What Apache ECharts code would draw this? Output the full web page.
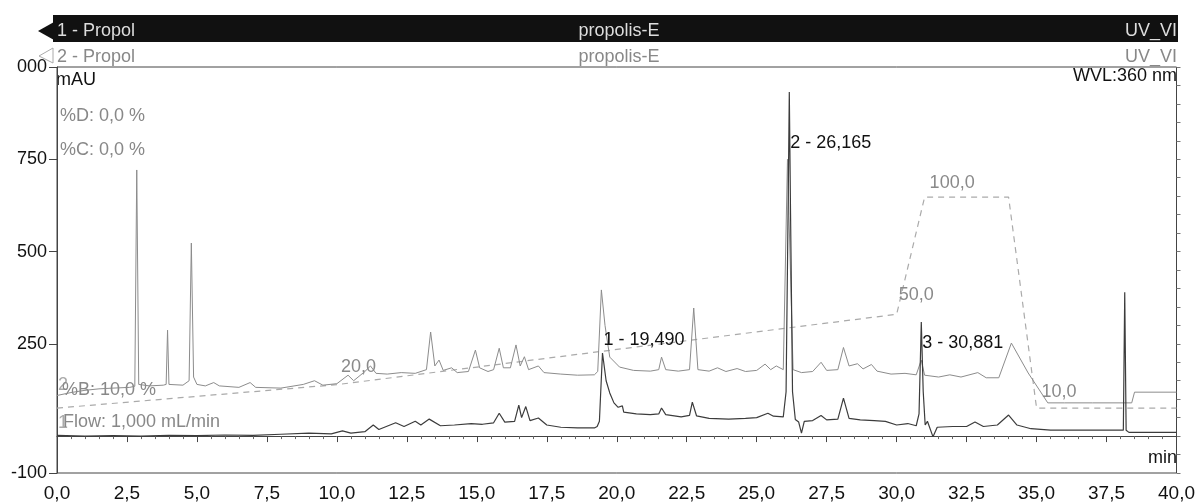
<!DOCTYPE html>
<html><head><meta charset="utf-8">
<script src="https://cdn.jsdelivr.net/npm/echarts@6/dist/echarts.min.js"></script>
<style>html,body{margin:0;padding:0;background:#fff}#c{width:1198px;height:504px}</style>
</head><body><div id="c"></div>
<script>
// ---------- data ----------
const yLabelValues = [-100, 250, 500, 750, 1000];
const xInterval = 2.5;

// trace 1 (active chromatogram, dark): [time min, mAU]
const trace1 = [
  [0,2],[1,0],[2,1],[3,0],[4,2],[5,1],[6,3],[7,2],[8,5],[9,8],[9.8,6],[10.2,14],[10.5,8],[11,12],
  [11.3,30],[11.5,18],[12.1,36],[12.4,26],[12.8,40],[13.0,30],[13.3,46],[13.7,28],[14.2,30],[14.8,34],
  [15.2,32],[15.6,36],[15.8,62],[16.0,38],[16.35,40],[16.5,84],[16.6,50],[16.75,80],[16.9,42],
  [17.2,49],[17.5,30],[18,24],[18.6,22],[19.2,22],[19.3,26],[19.38,40],[19.49,225],[19.62,150],
  [19.75,117],[19.9,90],[20.05,78],[20.2,82],[20.25,65],[20.7,60],[21.2,58],[21.5,60],[21.6,76],
  [21.75,58],[22.3,52],[22.6,56],[22.7,92],[22.85,55],[23.3,48],[24,46],[24.6,48],[25,50],[25.4,62],
  [25.6,54],[25.95,52],[26.05,120],[26.12,600],[26.165,932],[26.21,600],[26.28,120],[26.38,45],
  [26.5,38],[26.6,8],[26.7,40],[27.0,42],[27.3,56],[27.5,44],[27.9,46],[28.1,103],[28.3,48],
  [28.7,44],[29.2,42],[29.6,40],[30.0,30],[30.4,34],[30.7,28],[30.8,60],[30.881,309],[30.95,120],
  [31.02,30],[31.1,40],[31.3,-2],[31.45,24],[32,26],[32.5,26],[32.8,38],[33.1,26],[33.6,30],
  [34.0,57],[34.3,30],[34.8,20],[35.5,16],[36.5,16],[37.5,16],[38.1,16],[38.15,390],[38.2,16],
  [38.3,10],[39,10],[40,10]
];

// trace 2 (overlay chromatogram, light): [time min, mAU]
const trace2 = [
  [0,110],[0.5,118],[1,124],[1.5,128],[2,130],[2.6,132],[2.78,135],[2.85,721],[2.92,140],[3.3,136],
  [3.8,138],[3.9,140],[3.95,287],[4.0,140],[4.5,138],[4.72,150],[4.8,523],[4.88,160],[5.0,140],
  [5.3,136],[5.6,145],[5.8,136],[6.5,132],[6.9,145],[7.1,132],[8,130],[8.8,140],[9.2,150],[9.5,138],
  [10,142],[10.4,165],[10.6,150],[11,175],[11.2,190],[11.4,170],[11.8,168],[12.3,172],[12.8,170],
  [13.2,180],[13.35,282],[13.5,190],[13.65,206],[13.8,178],[14.1,185],[14.3,172],[14.7,175],
  [14.95,233],[15.1,185],[15.4,175],[15.6,180],[15.8,238],[15.95,185],[16.2,185],[16.4,247],
  [16.55,190],[16.7,215],[16.85,180],[17.2,190],[17.4,172],[18,168],[18.6,165],[19.2,166],
  [19.32,175],[19.45,396],[19.58,300],[19.75,214],[20.1,187],[20.6,178],[21.2,176],[21.5,180],
  [21.6,214],[21.75,180],[22.2,176],[22.6,180],[22.75,347],[22.9,180],[23.3,176],[23.6,185],
  [23.9,175],[24.3,183],[24.6,175],[25.0,178],[25.3,195],[25.5,180],[25.7,190],[25.95,180],
  [26.1,750],[26.3,180],[26.6,172],[27.0,175],[27.3,200],[27.5,178],[27.9,180],[28.1,240],
  [28.3,190],[28.6,196],[28.8,182],[29.1,194],[29.3,176],[29.8,168],[30.3,170],[30.7,166],
  [30.88,206],[31.0,165],[31.5,160],[31.9,166],[32.3,160],[32.9,172],[33.2,158],[33.65,158],
  [34.1,252],[34.7,171],[35.1,125],[35.4,90],[36,90],[37,90],[38.4,90],[38.5,119],[40,119]
];

// gradient %B (dashed): [time min, %B]
const gradientB = [[0,10],[10,20],[30,50],[31,100],[34,100],[35,10],[40,10]];

// integrated peaks of trace 1
const peakNumbers = [1, 2, 3];
const peakTimes = [19.490, 26.165, 30.881];

// ---------- layout / style ----------
const FONT = '"Liberation Sans", Arial, sans-serif';
const peakLabelY = [260, 794, 252];           // label anchor height (mAU scale)
const gradLabelIdx = [1, 2, 3, 5];
const gradLabelOffsets = [[4,-3],[2,-5],[5,0],[5,-2]];
const fmt = v => v.toFixed(1).replace('.', ',');

const gradData = gradientB.map((p, i) => {
  const k = gradLabelIdx.indexOf(i);
  if (k < 0) return { value: p };
  return { value: p, label: { show: true, position: 'top', distance: 5, align: 'left',
    offset: gradLabelOffsets[k], formatter: o => fmt(o.value[1]),
    color: '#8a8a8a', fontSize: 18, fontFamily: FONT } };
});

const chart = echarts.init(document.getElementById('c'), null, { renderer: 'canvas' });
chart.setOption({
  animation: false,
  backgroundColor: '#fff',
  grid: { left: 57, right: 19, top: 67, bottom: 31, show: true, borderColor: '#444', borderWidth: 1, backgroundColor: 'transparent' },
  xAxis: {
    type: 'value', min: 0, max: 40, interval: xInterval,
    axisLine: { show: true, lineStyle: { color: '#444', width: 1 } },
    axisTick: { show: true, length: 6, lineStyle: { color: '#444' } },
    minorTick: { show: true, splitNumber: 5, length: 3, lineStyle: { color: '#666' } },
    splitLine: { show: false },
    axisLabel: { formatter: v => fmt(v), color: '#111', fontSize: 19, fontFamily: FONT, margin: 11, showMaxLabel: true, showMinLabel: true, hideOverlap: false }
  },
  yAxis: [
    {
      type: 'value', min: -100, max: 1000,
      axisLine: { show: true, lineStyle: { color: '#444', width: 1 } },
      axisTick: { show: true, length: 8, customValues: yLabelValues, lineStyle: { color: '#444' } },
      axisLabel: { customValues: yLabelValues, formatter: v => (v === 1000 ? '000' : String(v)),
        color: '#111', fontSize: 18, fontFamily: FONT, margin: 10 },
      splitLine: { show: false }
    },
    {
      type: 'value', min: -100, max: 1000, interval: 50,
      axisLine: { show: false }, axisLabel: { show: false }, splitLine: { show: false },
      axisTick: { show: true, length: 4, lineStyle: { color: '#777' } }
    },
    {
      type: 'value', min: -17.7, max: 155.5, show: false
    }
  ],
  series: [
    { name: 'gradient', type: 'line', yAxisIndex: 2, data: gradData, symbol: 'circle', symbolSize: 1, showSymbol: true,
      itemStyle: { color: 'rgba(0,0,0,0)' }, label: { show: false },
      lineStyle: { color: '#aaa', width: 1.2, type: [6, 5] }, z: 1, silent: true },
    { name: '2 - Propol', type: 'line', data: trace2, symbol: 'none', showSymbol: false,
      lineStyle: { color: '#8c8c8c', width: 1 }, z: 2, silent: true },
    { name: '1 - Propol', type: 'line', data: trace1, symbol: 'none', showSymbol: false,
      lineStyle: { color: '#3c3c3c', width: 1.2 }, z: 3, silent: true,
      markPoint: {
        symbol: 'circle', symbolSize: 0, silent: true,
        label: { show: true, position: 'right', distance: 1, color: '#111', fontSize: 18, fontFamily: FONT,
          formatter: p => p.name },
        data: peakTimes.map((t, i) => ({ name: peakNumbers[i] + ' - ' + t.toFixed(3).replace('.', ','), coord: [t, peakLabelY[i]] }))
      } }
  ],
  graphic: [
    { type: 'rect', shape: { x: 53, y: 15, width: 1125, height: 27 }, style: { fill: '#111' }, silent: true },
    { type: 'polygon', shape: { points: [[38,31],[54,22],[54,40]] }, style: { fill: '#111' }, silent: true },
    { type: 'polygon', shape: { points: [[39,56],[53,48],[53,63]] }, style: { fill: 'none', stroke: '#aaa', lineWidth: 1 }, silent: true },
    { type: 'text', style: { text: '1 - Propol', x: 57, y: 31, fill: '#ddd', font: '18px ' + FONT, textVerticalAlign: 'middle' } },
    { type: 'text', style: { text: 'propolis-E', x: 619, y: 31, fill: '#ddd', font: '18px ' + FONT, textAlign: 'center', textVerticalAlign: 'middle' } },
    { type: 'text', style: { text: 'UV_VI', x: 1177, y: 31, fill: '#ddd', font: '18px ' + FONT, textAlign: 'right', textVerticalAlign: 'middle' } },
    { type: 'text', style: { text: '2 - Propol', x: 57, y: 57, fill: '#888', font: '18px ' + FONT, textVerticalAlign: 'middle' } },
    { type: 'text', style: { text: 'propolis-E', x: 619, y: 57, fill: '#888', font: '18px ' + FONT, textAlign: 'center', textVerticalAlign: 'middle' } },
    { type: 'text', style: { text: 'UV_VI', x: 1177, y: 57, fill: '#888', font: '18px ' + FONT, textAlign: 'right', textVerticalAlign: 'middle' } },
    { type: 'text', style: { text: 'mAU', x: 56, y: 80, fill: '#111', font: '18px ' + FONT, textVerticalAlign: 'middle' } },
    { type: 'text', style: { text: 'WVL:360 nm', x: 1177, y: 76, fill: '#111', font: '18px ' + FONT, textAlign: 'right', textVerticalAlign: 'middle' } },
    { type: 'text', style: { text: 'min', x: 1177, y: 458, fill: '#111', font: '18px ' + FONT, textAlign: 'right', textVerticalAlign: 'middle' } },
    { type: 'text', style: { text: '%D: 0,0 %', x: 60, y: 116, fill: '#888', font: '18px ' + FONT, textVerticalAlign: 'middle' } },
    { type: 'text', style: { text: '%C: 0,0 %', x: 60, y: 150, fill: '#888', font: '18px ' + FONT, textVerticalAlign: 'middle' } },
    { type: 'text', style: { text: '2', x: 58, y: 385, fill: '#aaa', font: '18px ' + FONT, textVerticalAlign: 'middle' } },
    { type: 'text', style: { text: '%B: 10,0 %', x: 62, y: 390, fill: '#888', font: '18px ' + FONT, textVerticalAlign: 'middle' } },
    { type: 'text', style: { text: '1', x: 58, y: 423, fill: '#aaa', font: '18px ' + FONT, textVerticalAlign: 'middle' } },
    { type: 'text', style: { text: 'Flow: 1,000 mL/min', x: 63, y: 422, fill: '#888', font: '18px ' + FONT, textVerticalAlign: 'middle' } }
  ]
});
</script>
</body></html>
